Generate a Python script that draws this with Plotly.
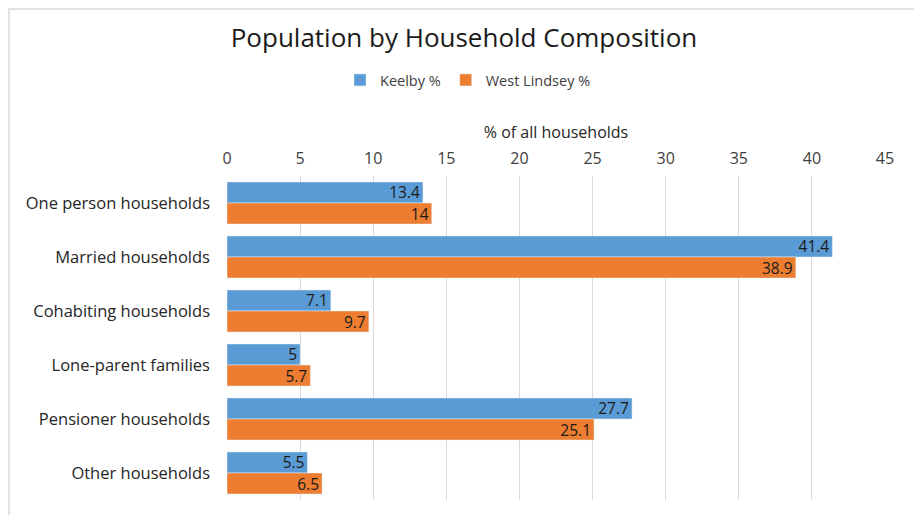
import plotly.graph_objects as go

categories = ["One person households", "Married households", "Cohabiting households",
              "Lone-parent families", "Pensioner households", "Other households"]
keelby = [13.4, 41.4, 7.1, 5, 27.7, 5.5]
west_lindsey = [14, 38.9, 9.7, 5.7, 25.1, 6.5]
tick_vals = [0, 5, 10, 15, 20, 25, 30, 35, 40, 45]

FONT = "Open Sans"
OFF = 8  # page body margin
L, T = 227 - OFF, 176 - OFF
PW, PH = 658, 324

fig = go.Figure()
for name, vals, col in [("Keelby %", keelby, "#5B9BD5"), ("West Lindsey %", west_lindsey, "#ED7D31")]:
    fig.add_trace(go.Bar(
        y=categories, x=vals, orientation="h", name=name,
        marker=dict(color=col),
        text=[str(v) for v in vals], textposition="inside", insidetextanchor="end",
        textangle=0, constraintext="none",
        textfont=dict(color="#1a1a1a", size=15.5, family=FONT),
    ))

fig.update_layout(
    width=922, height=515,
    barmode="group", bargap=0.22, bargroupgap=0,
    paper_bgcolor="white", plot_bgcolor="white",
    margin=dict(l=L, r=922 - L - PW, t=T, b=515 - T - PH, autoexpand=False),
    font=dict(family=FONT, color="#262626", size=15),
    title=dict(text="Population by Household Composition", x=(464 - OFF) / 922, xanchor="center",
               y=1 - (38 - OFF) / 515, yanchor="middle",
               font=dict(size=26, color="#1a1a1a", family=FONT)),
    legend=dict(orientation="h", x=(468 - OFF - L) / PW, xanchor="center",
                y=1 + (176 - 80) / PH, yanchor="middle",
                font=dict(size=14.5, color="#404040", family=FONT), itemwidth=30,
                traceorder="normal"),
    uniformtext=dict(mode="show", minsize=15.5),
    xaxis=dict(
        side="top", range=[0, 45], tickvals=tick_vals, showgrid=True,
        gridcolor="#d9d9d9", gridwidth=1, zeroline=False, showline=False,
        tickfont=dict(size=16, color="#404040", family=FONT),
        title=dict(text="% of all households", font=dict(size=16, color="#262626", family=FONT),
                   standoff=4),
        ticks="", ticklabelstandoff=8,
    ),
    yaxis=dict(
        autorange="reversed", showgrid=False, showline=False, ticks="",
        tickfont=dict(size=16.5, color="#262626", family=FONT), ticklabelstandoff=16,
    ),
    shapes=[dict(type="rect", xref="paper", yref="paper",
                 x0=(1 - L) / PW, x1=(915 - OFF - L) / PW,
                 y0=-0.1, y1=1 + (T - 1) / PH,
                 line=dict(color="#d9d9d9", width=1.5), fillcolor="rgba(0,0,0,0)", layer="below")],
)

fig.write_html("out.html")
